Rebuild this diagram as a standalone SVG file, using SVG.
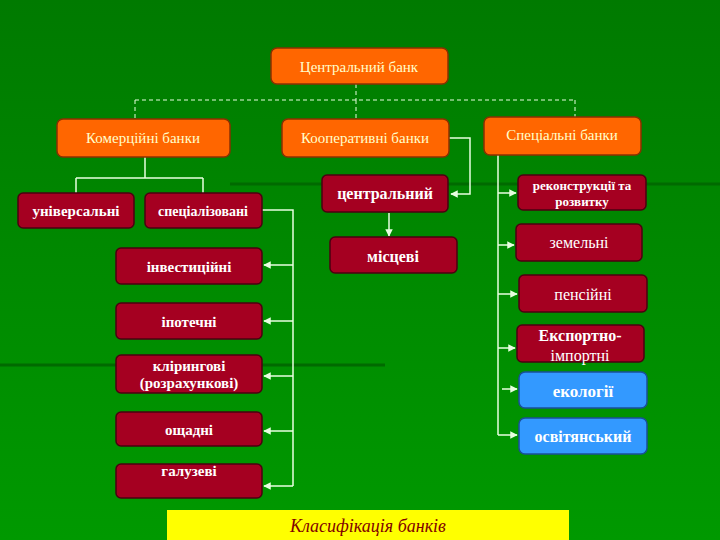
<svg xmlns="http://www.w3.org/2000/svg" width="720" height="540" viewBox="0 0 720 540">
<defs>
<linearGradient id="bg" x1="0" y1="0" x2="0" y2="1"><stop offset="0" stop-color="#007a00"/><stop offset="1" stop-color="#009900"/></linearGradient>
<marker id="ar" viewBox="0 0 10 10" refX="9" refY="5" markerWidth="5" markerHeight="5" orient="auto"><path d="M0,0L10,5L0,10z" fill="#e8ffe0"/></marker>
</defs>
<style>
text{font-family:"Liberation Serif",serif;text-anchor:middle;}
.o{fill:#ff6600;stroke:#8a3000;stroke-width:1.5}
.r{fill:#a50021;stroke:#4a0010;stroke-width:1.5}
.b{fill:#3399ff;stroke:#1a4f99;stroke-width:1.5}
.ot{fill:#ffffcc;font-size:15px}
.rt{fill:#ffffff;font-size:15px;font-weight:bold}
.bt{fill:#ffffff;font-size:17px;font-weight:bold}
.ln{fill:none;stroke:#e8ffe0;stroke-width:1.5}
.ds{fill:none;stroke:#e8ffe0;stroke-width:1;stroke-dasharray:4,3}
</style>
<rect width="720" height="540" fill="url(#bg)"/>
<line x1="230" y1="184" x2="720" y2="184" stroke="#006a00" stroke-width="3"/>
<line x1="0" y1="365" x2="385" y2="365" stroke="#006a00" stroke-width="3"/>
<g id="connectors">
<path class="ds" d="M356,84V100M135,100H575M135,100V119M356,100V119M575,100V117"/>
<path class="ln" d="M145,157V178M76,178H203M76,178V193M203,178V193"/>
<path class="ln" d="M262,210H293V486"/>
<path class="ln" marker-end="url(#ar)" d="M293,265H264"/>
<path class="ln" marker-end="url(#ar)" d="M293,321H264"/>
<path class="ln" marker-end="url(#ar)" d="M293,376H264"/>
<path class="ln" marker-end="url(#ar)" d="M293,431H264"/>
<path class="ln" marker-end="url(#ar)" d="M293,486H264"/>
<path class="ln" marker-end="url(#ar)" d="M449,138H470V194H451"/>
<path class="ln" marker-end="url(#ar)" d="M389,213V236"/>
<path class="ln" d="M498,155V435"/>
<path class="ln" marker-end="url(#ar)" d="M498,193H516"/>
<path class="ln" marker-end="url(#ar)" d="M498,245H514"/>
<path class="ln" marker-end="url(#ar)" d="M498,294H517"/>
<path class="ln" marker-end="url(#ar)" d="M498,348H515"/>
<path class="ln" marker-end="url(#ar)" d="M502,389H517"/>
<path class="ln" marker-end="url(#ar)" d="M498,435H517"/>
</g>
<g id="central"><rect class="o" x="271" y="48" width="177" height="36" rx="6"/><text class="ot" x="359" y="72">Центральний банк</text></g>
<g id="komerc"><rect class="o" x="57" y="119" width="173" height="38" rx="6"/><text class="ot" x="143" y="143">Комерційні банки</text></g>
<g id="koop"><rect class="o" x="282" y="119" width="167" height="38" rx="6"/><text class="ot" x="365" y="143">Кооперативні банки</text></g>
<g id="spec"><rect class="o" x="484" y="117" width="157" height="38" rx="6"/><text class="ot" x="562" y="140">Спеціальні банки</text></g>
<g id="univ"><rect class="r" x="18" y="193" width="116" height="35" rx="5"/><text class="rt" x="76" y="216">універсальні</text></g>
<g id="specz"><rect class="r" x="145" y="193" width="117" height="35" rx="5"/><text class="rt" x="203" y="216" style="font-size:14px">спеціалізовані</text></g>
<g id="invest"><rect class="r" x="116" y="248" width="146" height="36" rx="5"/><text class="rt" x="189" y="272">інвестиційні</text></g>
<g id="ipot"><rect class="r" x="116" y="303" width="146" height="36" rx="5"/><text class="rt" x="189" y="327">іпотечні</text></g>
<g id="klir"><rect class="r" x="116" y="355" width="146" height="38" rx="5"/><text class="rt" x="189" y="371">клірингові</text><text class="rt" x="189" y="388">(розрахункові)</text></g>
<g id="oshch"><rect class="r" x="116" y="412" width="146" height="34" rx="5"/><text class="rt" x="189" y="435">ощадні</text></g>
<g id="galuz"><rect class="r" x="116" y="464" width="146" height="34" rx="5"/><text class="rt" x="189" y="476">галузеві</text></g>
<g id="centr"><rect class="r" x="322" y="175" width="126" height="37" rx="5"/><text class="rt" x="385" y="199" style="font-size:16px">центральний</text></g>
<g id="misc"><rect class="r" x="330" y="237" width="127" height="36" rx="5"/><text class="rt" x="393" y="262" style="font-size:16px">місцеві</text></g>
<g id="rekon"><rect class="r" x="518" y="175" width="128" height="35" rx="5"/><text class="rt" x="582" y="190" style="font-size:13px">реконструкції та</text><text class="rt" x="582" y="206" style="font-size:13px">розвитку</text></g>
<g id="zem"><rect class="r" x="516" y="224" width="126" height="37" rx="5"/><text class="rt" x="579" y="248" style="font-weight:normal;font-size:16px">земельні</text></g>
<g id="pens"><rect class="r" x="519" y="275" width="128" height="37" rx="5"/><text class="rt" x="583" y="300" style="font-weight:normal;font-size:16px">пенсійні</text></g>
<g id="eksp"><rect class="r" x="517" y="325" width="127" height="37" rx="5"/><text class="rt" x="580" y="341" style="font-size:16px">Експортно-</text><text class="rt" x="580" y="361" style="font-weight:normal;font-size:16px">імпортні</text></g>
<g id="ekol"><rect class="b" x="519" y="372" width="128" height="36" rx="6"/><text class="bt" x="583" y="397">екології</text></g>
<g id="osvit"><rect class="b" x="519" y="418" width="128" height="36" rx="6"/><text class="bt" x="583" y="442" style="font-size:16px">освітянський</text></g>
<g id="title"><rect x="167" y="510" width="402" height="32" fill="#ffff00"/><text x="368" y="532" style="font-size:18px;font-style:italic;fill:#800000">Класифікація банків</text></g>
</svg>
